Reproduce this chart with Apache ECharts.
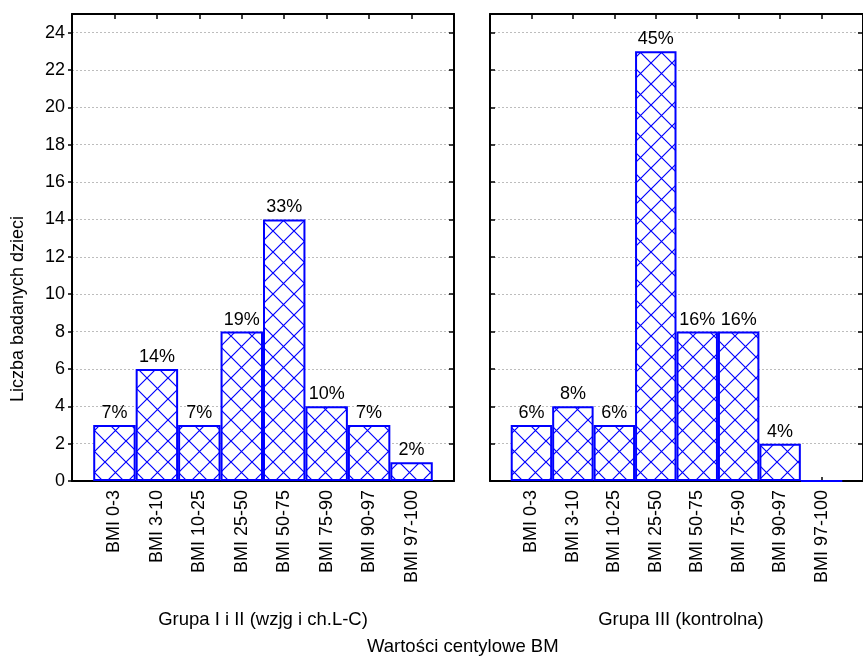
<!DOCTYPE html>
<html><head><meta charset="utf-8">
<script src="https://cdn.jsdelivr.net/npm/echarts@6/dist/echarts.min.js"></script>
<style>html,body{margin:0;padding:0;background:#fff}#c{width:863px;height:657px}</style>
</head><body><div id="c"></div>
<script>
const categories = ['BMI 0-3','BMI 3-10','BMI 10-25','BMI 25-50','BMI 50-75','BMI 75-90','BMI 90-97','BMI 97-100'];
const group1Counts = [3, 6, 3, 8, 14, 4, 3, 1];
const group1Pct = [7, 14, 7, 19, 33, 10, 7, 2];
const group3Counts = [3, 4, 3, 23, 8, 8, 2, 0];
const group3Pct = [6, 8, 6, 45, 16, 16, 4, null];
const yTicks = [0, 2, 4, 6, 8, 10, 12, 14, 16, 18, 20, 22, 24];
const groupNames = ['Grupa I i II (wzjg i ch.L-C)', 'Grupa III (kontrolna)'];
const yAxisName = 'Liczba badanych dzieci';
const xAxisName = 'Wartości centylowe BM';

const FONT = '"Liberation Sans", Arial, sans-serif';
const catIdx = categories.map((_, i) => i);

function hatch() {
  const T = 21, c = document.createElement('canvas');
  c.width = T; c.height = T;
  const g = c.getContext('2d');
  g.fillStyle = '#fff'; g.fillRect(0, 0, T, T);
  g.strokeStyle = '#0000ff'; g.lineWidth = 1.2;
  g.beginPath();
  g.moveTo(-2, -2); g.lineTo(T + 2, T + 2);
  g.moveTo(T + 2, -2); g.lineTo(-2, T + 2);
  g.stroke();
  return c;
}
const pattern = hatch();

const grids = [
  { left: 72, top: 14, width: 382, height: 467 },
  { left: 490, top: 14, width: 382, height: 467 }
];

const axisLine = { show: true, onZero: false, lineStyle: { color: '#000', width: 2 } };
const xAxis = [], yAxis = [];
grids.forEach((g, gi) => {
  xAxis.push({
    type: 'value', gridIndex: gi, min: -1, max: 8, interval: 1, position: 'bottom',
    axisLine,
    axisTick: { show: true, inside: true, length: 4, customValues: catIdx, lineStyle: { color: '#000', width: 1.5 } },
    axisLabel: { show: true, rotate: 90, margin: 9, customValues: catIdx, formatter: v => categories[v] || '',
      fontSize: 18, color: '#000', fontFamily: FONT },
    splitLine: { show: false }
  });
  xAxis.push({
    type: 'value', gridIndex: gi, min: -1, max: 8, interval: 1, position: 'top',
    axisLine,
    axisTick: { show: true, inside: true, length: 5, customValues: catIdx, lineStyle: { color: '#000', width: 1.5 } },
    axisLabel: { show: false }, splitLine: { show: false }
  });
  yAxis.push({
    type: 'value', gridIndex: gi, min: 0, max: 24.999, interval: 2, position: 'left',
    axisLine,
    axisTick: { show: true, inside: gi === 1, length: gi === 1 ? 5 : 4, customValues: yTicks, lineStyle: { color: '#000', width: 1.5 } },
    axisLabel: { show: gi === 0, margin: 7, customValues: yTicks, fontSize: 18, color: '#000', fontFamily: FONT },
    splitLine: { show: true, lineStyle: { color: '#bdbdbd', type: [2, 2], width: 1 } }
  });
  yAxis.push({
    type: 'value', gridIndex: gi, min: 0, max: 24.999, interval: 2, position: 'right',
    axisLine,
    axisTick: { show: true, inside: true, length: 5, customValues: yTicks, lineStyle: { color: '#000', width: 1.5 } },
    axisLabel: { show: false },
    splitLine: { show: false }
  });
});

function barSeries(gi, counts, pct) {
  return {
    type: 'bar', xAxisIndex: gi * 2, yAxisIndex: gi * 2,
    data: counts.map((v, i) => [i, v]),
    barWidth: '100%',
    itemStyle: { color: { image: pattern, repeat: 'repeat' }, borderColor: '#0000ff', borderWidth: 2 },
    label: { show: true, position: 'top', distance: 3, fontSize: 18, color: '#000', fontFamily: FONT,
      formatter: p => pct[p.dataIndex] == null ? '' : pct[p.dataIndex] + '%' },
    emphasis: { disabled: true }, z: 3
  };
}

const chart = echarts.init(document.getElementById('c'), null, { renderer: 'canvas' });
chart.setOption({
  animation: false,
  backgroundColor: '#fff',
  grid: grids,
  xAxis, yAxis,
  series: [
    barSeries(0, group1Counts, group1Pct),
    barSeries(1, group3Counts, group3Pct)
  ],
  graphic: [
    { type: 'text', x: 263, y: 620, style: { text: groupNames[0], fontSize: 18.5, fontFamily: FONT, fill: '#000', align: 'center', verticalAlign: 'middle' } },
    { type: 'text', x: 681, y: 620, style: { text: groupNames[1], fontSize: 18.5, fontFamily: FONT, fill: '#000', align: 'center', verticalAlign: 'middle' } },
    { type: 'text', x: 367, y: 647, style: { text: xAxisName, fontSize: 18.5, fontFamily: FONT, fill: '#000', align: 'left', verticalAlign: 'middle' } },
    { type: 'text', x: 18, y: 309, rotation: Math.PI / 2, style: { text: yAxisName, fontSize: 18, fontFamily: FONT, fill: '#000', align: 'center', verticalAlign: 'middle' } }
  ]
});
</script></body></html>
